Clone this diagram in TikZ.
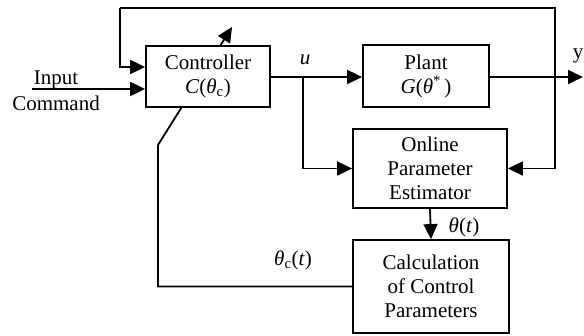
\documentclass[tikz,border=0pt]{standalone}
\usepackage{fontspec}
\setmainfont{Liberation Serif}
\usetikzlibrary{arrows.meta}
\begin{document}
\begin{tikzpicture}[x=1pt,y=-1pt,
  line width=1.8pt,
  font=\fontsize{21}{24}\selectfont,
  blockbox/.style={draw,fill=white,align=center,inner sep=0pt},
  tip/.style={-{Triangle[length=15pt,width=14pt]}},
  lbl/.style={inner sep=0pt}]
\useasboundingbox (0,0) rectangle (584,336);

% coordinates of junctions and bends
\coordinate (ubr) at (303,77);
\coordinate (ybr) at (555,77);
\coordinate (yend) at (583,77);
\coordinate (tl) at (120,8);
\coordinate (tr) at (555,8);
\coordinate (inl) at (32,89);
\coordinate (bend) at (158,145);
\coordinate (adj) at (232,27);

% adjustment line through the controller (hidden by the box)
\node[blockbox,draw=none,fill=none,minimum width=156pt,minimum height=93pt] (calc) at (431,286.5) {};
\draw[tip] (calc.west) -| (bend) -- (adj);

% blocks
\node[blockbox,minimum width=124pt,minimum height=61pt] (ctrl) at (208,76.5)
  {Controller\\\textit{C}(\textit{θ}\textsubscript{c})};
\node[blockbox,minimum width=126pt,minimum height=62pt] (plant) at (426,76)
  {Plant\\\textit{G}(\textit{θ}\textsuperscript{*}\,)};
\node[blockbox,minimum width=154pt,minimum height=79pt] (est) at (430,168.5)
  {Online\\Parameter\\Estimator};
\node[blockbox,minimum width=156pt,minimum height=93pt] at (431,286.5)
  {Calculation\\of Control\\Parameters};

% signal paths
\draw[tip] (inl) -- (ctrl.west |- inl);
\draw[tip] (ctrl.east |- ubr) -- (plant.west |- ubr);
\draw[tip] (ubr) |- (est.west);
\draw[tip] (plant.east |- ybr) -- (yend);
\draw[tip] (ybr) |- (est.east);
\draw (ybr) -- (tr) -- (tl);
\draw[tip] (tl) |- (ctrl.west |- 0,67);
\draw[tip] (est.south) -- (calc.north);

% labels
\node[lbl] (ulbl) at (305,60) {\textit{u}};
\node[lbl] (ylbl) at (578,56) {y};
\node[lbl] (thlbl) at (464,227) {\textit{θ}(\textit{t})};
\node[lbl] (thclbl) at (293,260) {\textit{θ}\textsubscript{c}(\textit{t})};
\node[lbl] (inlbl) at (56,80) {Input};
\node[lbl] (cmdlbl) at (56,103) {Command};
\end{tikzpicture}
\end{document}
